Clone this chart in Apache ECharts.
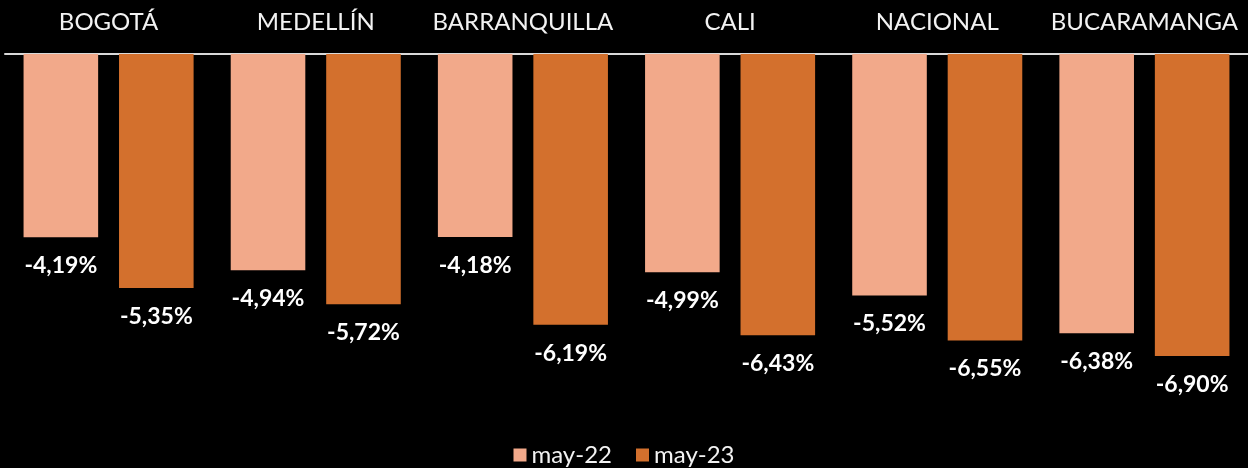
<!DOCTYPE html>
<html>
<head>
<meta charset="utf-8">
<script src="https://cdn.jsdelivr.net/npm/echarts@6/dist/echarts.min.js"></script>
<style>
  html, body { margin: 0; padding: 0; background: #000; }
  #chart { width: 1248px; height: 468px; }
</style>
</head>
<body>
<div id="chart"></div>
<script>
// ciudades (eje arriba)
const cities = ['BOGOTÁ', 'MEDELLÍN', 'BARRANQUILLA', 'CALI', 'NACIONAL', 'BUCARAMANGA'];
const may22 = [-4.19, -4.94, -4.18, -4.99, -5.52, -6.38];
const may23 = [-5.35, -5.72, -6.19, -6.43, -6.55, -6.90];

const chart = echarts.init(document.getElementById('chart'));

const labelFmt = p => p.value.toFixed(2).replace('.', ',') + '%';

const option = {
  backgroundColor: '#000',
  textStyle: { fontFamily: 'Lato' },
  legend: {
    bottom: -4,
    left: 'center',
    itemWidth: 13,
    itemHeight: 13,
    itemGap: 24,
    icon: 'rect',
    textStyle: { color: '#f2f2f2', fontSize: 24, fontFamily: 'Lato' },
    data: ['may-22', 'may-23']
  },
  grid: { left: 5, right: -2, top: 54, height: 350 },
  xAxis: {
    type: 'category',
    position: 'top',
    data: cities,
    axisLine: { lineStyle: { color: '#d9d9d9', width: 2 } },
    axisTick: { show: false },
    axisLabel: { color: '#f2f2f2', fontSize: 24, margin: 20, interval: 0 }
  },
  yAxis: {
    type: 'value',
    min: -8,
    max: 0,
    show: false,
    splitLine: { show: false }
  },
  series: [
    {
      name: 'may-22',
      type: 'bar',
      data: may22,
      barWidth: '36%',
      barGap: '28%',
      itemStyle: { color: '#f2a98a' },
      label: {
        show: true,
        position: 'bottom',
        distance: 17,
        color: '#fff',
        fontSize: 23,
        fontWeight: 'bold',
        formatter: labelFmt
      }
    },
    {
      name: 'may-23',
      type: 'bar',
      data: may23,
      barWidth: '36%',
      itemStyle: { color: '#d3702d' },
      label: {
        show: true,
        position: 'bottom',
        distance: 17,
        color: '#fff',
        fontSize: 23,
        fontWeight: 'bold',
        formatter: labelFmt
      }
    }
  ]
};

chart.setOption(option);
</script>
</body>
</html>
